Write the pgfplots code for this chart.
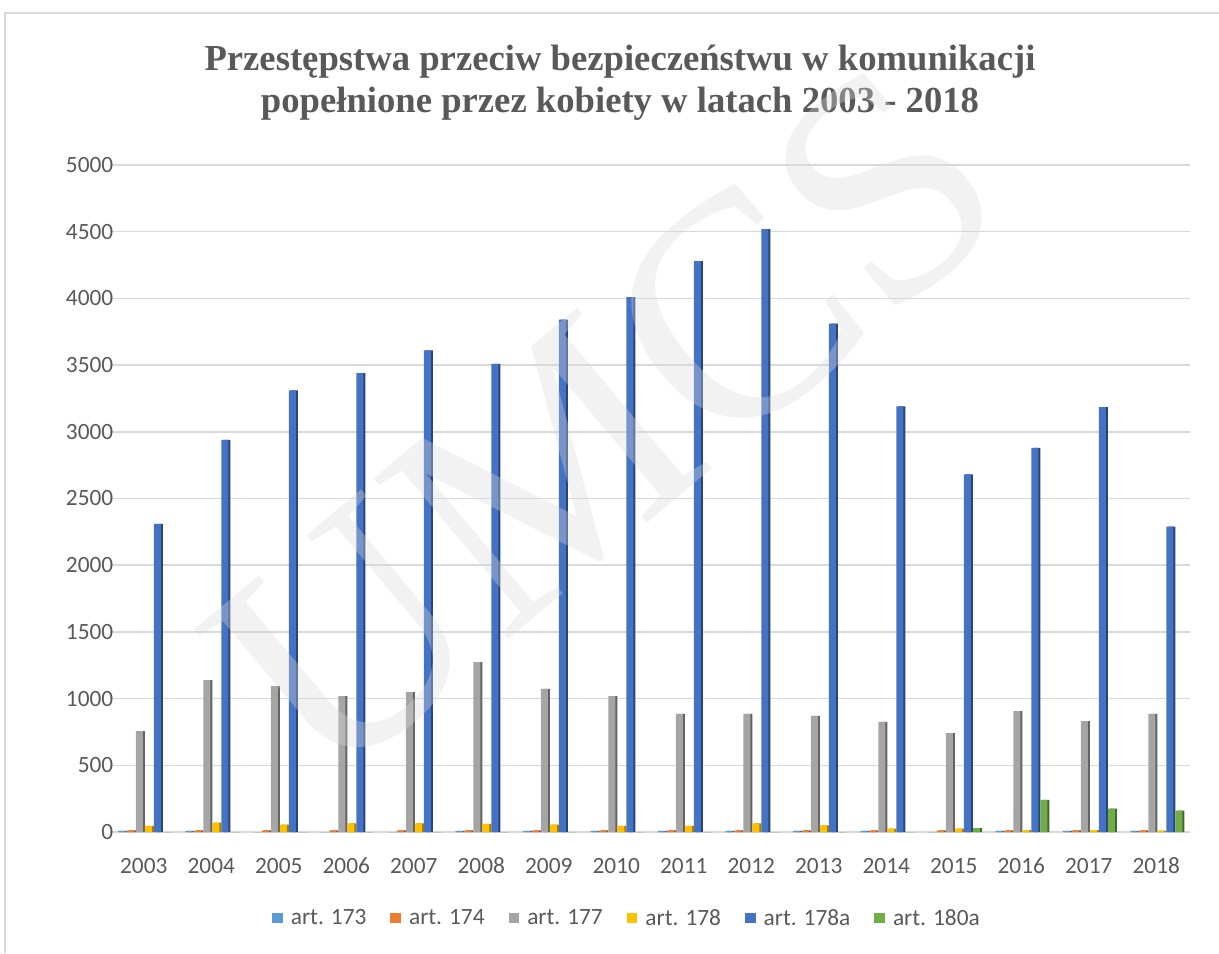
\documentclass[border=0pt]{standalone}
\usepackage{fontspec}
\setmainfont{Carlito}
\newfontfamily\titlefont{Liberation Serif}
\usepackage{pgfplots}
\pgfplotsset{compat=1.18}
\usepackage{pgfplotstable}
\definecolor{txt}{HTML}{595959}
\definecolor{gridc}{HTML}{D9D9D9}
\definecolor{cA}{HTML}{5B9BD5}
\definecolor{cB}{HTML}{ED7D31}
\definecolor{cC}{HTML}{A5A5A5}
\definecolor{cD}{HTML}{FFC000}
\definecolor{cE}{HTML}{4472C4}
\definecolor{cF}{HTML}{70AD47}
\pgfplotstableread{
x  a173 a174 a177 a178 a178a a180a
0  8    12   757  45   2310  0
1  8    12   1139 70   2940  0
2  0    12   1094 55   3310  0
3  0    12   1019 65   3440  0
4  0    12   1049 65   3610  0
5  8    12   1274 60   3510  0
6  8    12   1072 55   3840  0
7  8    12   1019 45   4010  0
8  8    12   885  45   4280  0
9  8    12   885  65   4520  0
10 8    12   870  50   3810  0
11 8    12   825  25   3190  0
12 0    12   742  25   2680  30
13 8    12   907  15   2880  240
14 8    12   832  15   3185  175
15 8    12   885  10   2290  160
}\data
\begin{document}
\begin{tikzpicture}
\begin{scope}[x=0.75pt,y=0.75pt]
\useasboundingbox (0,0) rectangle (1219,953);
\draw[black!15, line width=1.5pt] (5,0) -- (5,940) -- (1219,940);
\node[align=center, text=txt, font=\fontsize{27.5}{31.5}\selectfont\titlefont\bfseries] at (620,870)
  {Przestępstwa przeciw bezpieczeństwu w komunikacji\\popełnione przez kobiety w latach 2003 - 2018};
\end{scope}
\begin{axis}[
  at={(82.5pt,90.75pt)}, anchor=south west, scale only axis,
  width=810pt, height=500.25pt,
  xmin=-0.5, xmax=15.5, ymin=0, ymax=5000,
  ytick={0,500,...,5000},
  xtick={0,...,15},
  xticklabels={2003,2004,2005,2006,2007,2008,2009,2010,2011,2012,2013,2014,2015,2016,2017,2018},
  ymajorgrids, grid style={gridc, line width=1.1pt},
  axis line style={draw=none}, major tick length=0pt,
  tick label style={text=txt, font=\fontsize{17.5}{21}\selectfont},
  /pgf/number format/assume math mode=true,
  /pgf/number format/1000 sep={},
  yticklabel style={xshift=6pt},
  xticklabel style={anchor=base, yshift=-30.75pt},
  legend style={at={(rel axis cs:0.479,-0.129)}, anchor=center, draw=none, fill=none,
    legend columns=6, font=\fontsize{17.5}{21}\selectfont, text=txt,
    /tikz/every odd column/.append style={column sep=4pt},
    /tikz/every even column/.append style={column sep=16pt}},
  legend image code/.code={\fill[#1] (0pt,-4pt) rectangle (8pt,4pt);},
  bar width=5.25pt,
]
% side shades
\addplot[ybar, bar shift=-16.875pt+1.5pt, fill=cA!65!black, draw=none, forget plot] table[x=x,y=a173]{\data};
\addplot[ybar, bar shift=-10.125pt+1.5pt, fill=cB!65!black, draw=none, forget plot] table[x=x,y=a174]{\data};
\addplot[ybar, bar shift=-3.375pt+1.5pt, fill=cC!60!black, draw=none, forget plot] table[x=x,y=a177]{\data};
\addplot[ybar, bar shift=3.375pt+1.5pt, fill=cD!65!black, draw=none, forget plot] table[x=x,y=a178]{\data};
\addplot[ybar, bar shift=10.125pt+1.5pt, fill=cE!60!black, draw=none, forget plot] table[x=x,y=a178a]{\data};
\addplot[ybar, bar shift=16.875pt+1.5pt, fill=cF!60!black, draw=none, forget plot] table[x=x,y=a180a]{\data};
% faces
\addplot[ybar, bar shift=-16.875pt, fill=cA, draw=none] table[x=x,y=a173]{\data};
\addplot[ybar, bar shift=-10.125pt, fill=cB, draw=none] table[x=x,y=a174]{\data};
\addplot[ybar, bar shift=-3.375pt, fill=cC, draw=none] table[x=x,y=a177]{\data};
\addplot[ybar, bar shift=3.375pt, fill=cD, draw=none] table[x=x,y=a178]{\data};
\addplot[ybar, bar shift=10.125pt, fill=cE, draw=none] table[x=x,y=a178a]{\data};
\addplot[ybar, bar shift=16.875pt, fill=cF, draw=none] table[x=x,y=a180a]{\data};
\legend{art. 173, art. 174, art. 177, art. 178, art. 178a, art. 180a}
\end{axis}
\begin{scope}[x=0.75pt,y=0.75pt]
\node[rotate=40, text=gray!30, text opacity=0.35, font=\fontsize{240}{240}\selectfont\titlefont] at (605,530) {UMCS};
\end{scope}
\end{tikzpicture}
\end{document}
